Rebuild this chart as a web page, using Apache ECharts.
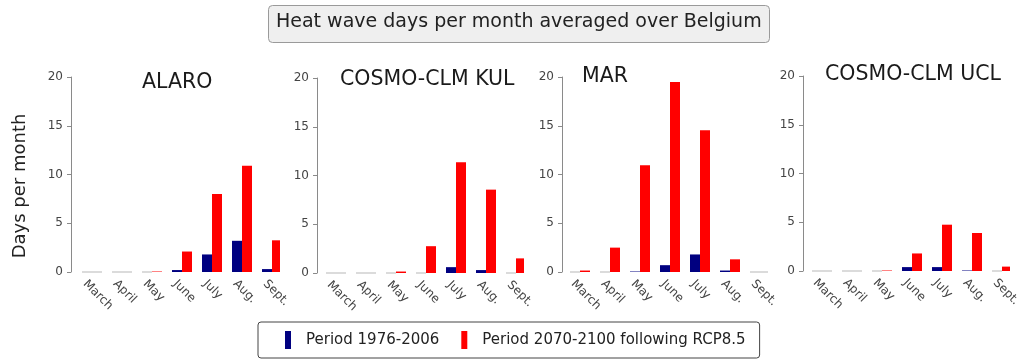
<!DOCTYPE html>
<html>
<head>
<meta charset="utf-8">
<script src="https://cdn.jsdelivr.net/npm/echarts@6/dist/echarts.min.js"></script>
<style>
html,body{margin:0;padding:0;background:#fff;}
#chart{width:1025px;height:360px;}
</style>
</head>
<body>
<div id="chart"></div>
<script>
// ---- data ----
const months = ['March', 'April', 'May', 'June', 'July', 'Aug.', 'Sept.'];
const models = ['ALARO', 'COSMO-CLM KUL', 'MAR', 'COSMO-CLM UCL'];
const seriesNames = ['Period 1976-2006', 'Period 2070-2100 following RCP8.5'];
const alaroPast   = [0, 0, 0, 0.2, 1.8, 3.2, 0.3];
const alaroFuture = [0, 0, 0.05, 2.1, 8.0, 10.9, 3.25];
const kulPast     = [0, 0, 0, 0, 0.6, 0.3, 0];
const kulFuture   = [0, 0, 0.15, 2.75, 11.35, 8.55, 1.5];
const marPast     = [0, 0, 0.05, 0.7, 1.8, 0.15, 0];
const marFuture   = [0.15, 2.5, 10.95, 19.5, 14.55, 1.3, 0];
const uclPast     = [0, 0, 0, 0.4, 0.4, 0.05, 0];
const uclFuture   = [0, 0, 0.05, 1.8, 4.75, 3.9, 0.45];
const yTicks = [0, 5, 10, 15, 20];

const pastData = [alaroPast, kulPast, marPast, uclPast];
const futureData = [alaroFuture, kulFuture, marFuture, uclFuture];

// ---- layout ----
const axisX = [71, 317, 562, 803];
const groupStart = [82, 326, 570, 812];
const gridTop = [77, 78, 77, 76];
const titleLeft = [142, 340, 582, 825];
const titleTop = [72.5, 69, 66, 64];
const FONT = 'DejaVu Sans';
const LABEL_SHIFT = 3;

function styled(arr, color) {
  return arr.map(v => v === 0
    ? {value: 0, itemStyle: {color: color, borderColor: '#cfcfcf', borderWidth: 1}}
    : {value: v, itemStyle: {color: color, borderWidth: 0}});
}

const grids = [], xAxes = [], yAxes = [], series = [], titles = [];
titles.push({
  text: 'Heat wave days per month averaged over Belgium',
  left: 268, top: 5,
  padding: [8, 8, 11, 8],
  backgroundColor: '#efefef',
  borderColor: '#9a9a9a', borderWidth: 1, borderRadius: 4,
  textStyle: {fontFamily: FONT, fontSize: 19, fontWeight: 'normal', color: '#222'}
});
for (let i = 0; i < 4; i++) {
  const gl = groupStart[i] + LABEL_SHIFT - 15;
  grids.push({left: gl, top: gridTop[i], width: 210, height: 195, containLabel: false});
  xAxes.push({
    type: 'category', gridIndex: i, data: months, boundaryGap: true,
    axisLine: {show: false}, axisTick: {show: false},
    axisLabel: {interval: 0, rotate: -45, margin: 10, fontFamily: FONT, fontSize: 12, color: '#444', hideOverlap: false}
  });
  yAxes.push({
    type: 'value', gridIndex: i, min: yTicks[0], max: yTicks[yTicks.length - 1], interval: 5,
    offset: gl - axisX[i],
    axisLine: {show: true, lineStyle: {color: '#8a8a8a', width: 1}},
    axisTick: {show: true, length: 4, lineStyle: {color: '#8a8a8a'}},
    splitLine: {show: false},
    axisLabel: {margin: 8, fontFamily: FONT, fontSize: 12, color: '#444'}
  });
  series.push({
    type: 'bar', name: '_pad' + i, xAxisIndex: i, yAxisIndex: i, data: [], barWidth: 20 - 2 * LABEL_SHIFT, barGap: 0, silent: true
  });
  series.push({
    type: 'bar', name: seriesNames[0], xAxisIndex: i, yAxisIndex: i, data: styled(pastData[i], '#000080'),
    barWidth: 10, barGap: 0, itemStyle: {color: '#000080'}
  });
  series.push({
    type: 'bar', name: seriesNames[1], xAxisIndex: i, yAxisIndex: i, data: styled(futureData[i], '#ff0000'),
    barWidth: 10, barGap: 0, itemStyle: {color: '#ff0000'}
  });
  titles.push({
    text: models[i], left: titleLeft[i], top: titleTop[i], padding: 0,
    textStyle: {fontFamily: FONT, fontSize: 20.5, fontWeight: 'normal', color: '#1a1a1a'}
  });
}

const chart = echarts.init(document.getElementById('chart'), null, {renderer: 'canvas'});
chart.setOption({
  animation: false,
  backgroundColor: '#ffffff',
  textStyle: {fontFamily: FONT},
  title: titles,
  grid: grids,
  xAxis: xAxes,
  yAxis: yAxes,
  series: series,
  legend: {
    data: [{name: seriesNames[0], icon: 'rect'}, {name: seriesNames[1], icon: 'rect'}],
    left: 258, top: 322,
    padding: [9, 14, 9, 27],
    itemWidth: 6, itemHeight: 18, itemGap: 22,
    itemStyle: {borderWidth: 0},
    borderColor: '#444', borderWidth: 1, borderRadius: 3, backgroundColor: '#fff',
    selectedMode: false,
    textStyle: {fontFamily: FONT, fontSize: 15, color: '#222', padding: [0, 0, 0, 10]}
  },
  graphic: [{
    type: 'text', x: 20, y: 186, rotation: Math.PI / 2,
    style: {text: 'Days per month', fontFamily: FONT, fontSize: 18, fill: '#222', textAlign: 'center', textVerticalAlign: 'middle'}
  }]
});
</script>
</body>
</html>
